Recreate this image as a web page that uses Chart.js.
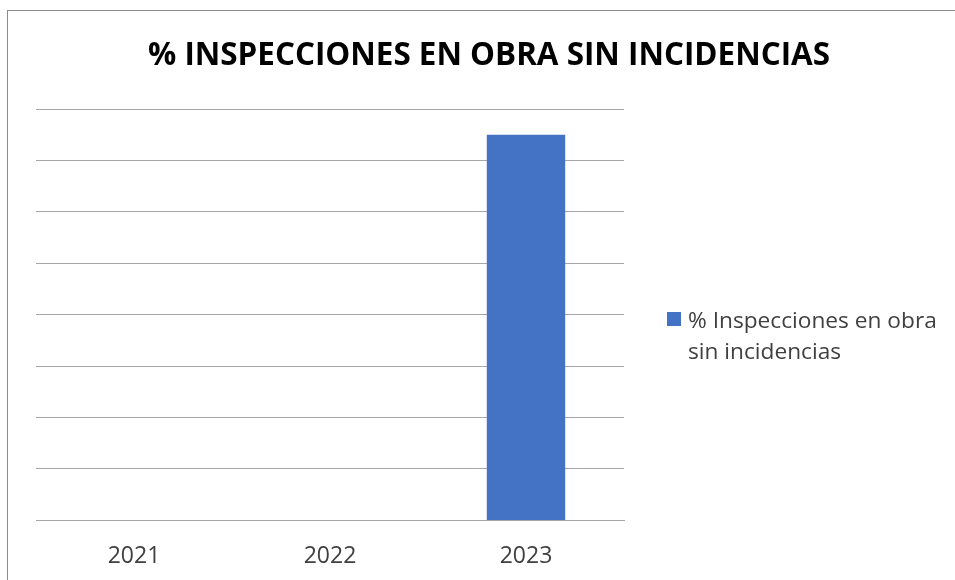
<!DOCTYPE html>
<html>
<head>
<meta charset="utf-8">
<script src="https://cdn.jsdelivr.net/npm/chart.js@4/dist/chart.umd.min.js"></script>
<style>
  html, body { margin: 0; padding: 0; background: #fff; }
  #wrap { position: relative; width: 955px; height: 580px; overflow: hidden; }
  #frame { position: absolute; left: 7px; top: 10px; width: 960px; height: 600px;
           border-left: 1px solid #8c8c8c; border-top: 1px solid #8c8c8c; }
  #chart { position: absolute; left: 0; top: 0; }
  #title { position: absolute; left: 89px; width: 800px; top: 31px; text-align: center;
           font-family: "Open Sans", sans-serif; font-weight: bold; font-size: 31.4px;
           line-height: 44px; color: #000; white-space: nowrap; }
  #legend { position: absolute; left: 667px; top: 304px; font-family: "Open Sans", sans-serif;
            font-size: 22.7px; color: #404040; line-height: 31px; }
  #legend .sw { position: absolute; left: 0; top: 8px; width: 14px; height: 14px; }
  #legend .txt { position: absolute; left: 21px; top: 0; width: 256px; }
</style>
</head>
<body>
<div id="wrap">
  <div id="frame"></div>
  <canvas id="chart" width="955" height="580"></canvas>
  <div id="title"></div>
  <div id="legend"></div>
</div>
<script>
// Chart data
const categories = ['2021', '2022', '2023'];
const seriesLabel = '% Inspecciones en obra sin incidencias';
const seriesValues = [0, 0, 75];
const barColor = '#4472C4';
const chartTitle = '% INSPECCIONES EN OBRA SIN INCIDENCIAS';

document.getElementById('title').textContent = chartTitle;

const ctx = document.getElementById('chart').getContext('2d');
const chart = new Chart(ctx, {
  type: 'bar',
  data: {
    labels: categories,
    datasets: [{
      label: seriesLabel,
      data: seriesValues,
      backgroundColor: barColor,
      borderWidth: 0,
      categoryPercentage: 0.4,
      barPercentage: 1.0,
    }],
  },
  options: {
    responsive: false,
    animation: false,
    layout: { padding: { left: 36, right: 331, top: 109, bottom: -12 } },
    plugins: {
      legend: { display: false },
      tooltip: { enabled: false },
      title: { display: false },
    },
    scales: {
      x: {
        grid: { display: false, drawTicks: false },
        border: { display: true, color: '#a6a6a6', width: 1 },
        ticks: { color: '#404040', padding: 22, font: { family: 'Open Sans', size: 23 } },
      },
      y: {
        min: 0,
        max: 80,
        ticks: { display: false, stepSize: 10 },
        grid: { color: '#a6a6a6', drawTicks: false, lineWidth: 1 },
        border: { display: false },
      },
    },
  },
});

// HTML legend built from the dataset
const legend = document.getElementById('legend');
chart.data.datasets.forEach(ds => {
  legend.innerHTML = `<div class="sw" style="background:${ds.backgroundColor}"></div><div class="txt">${ds.label}</div>`;
});
</script>
</body>
</html>
